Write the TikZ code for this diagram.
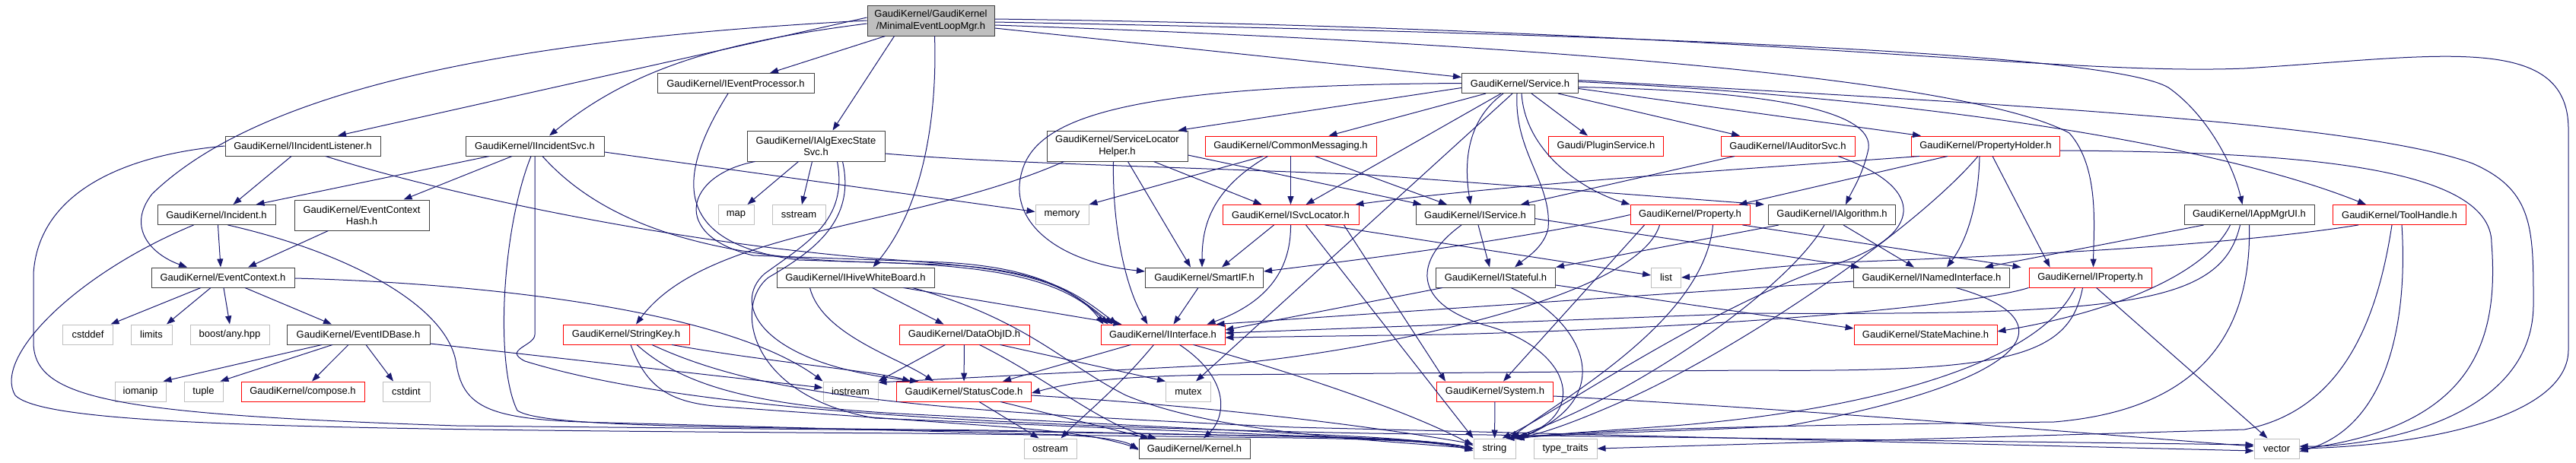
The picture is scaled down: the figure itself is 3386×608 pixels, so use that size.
\documentclass[tikz,border=0pt]{standalone}
\usepackage{fontspec}
\setmainfont{Liberation Sans}
\usetikzlibrary{arrows.meta}
\definecolor{edgeblue}{HTML}{191970}
\definecolor{boxgray}{HTML}{BFBFBF}
\begin{document}
\begin{tikzpicture}[x=1pt,y=-1pt,>={Triangle[length=11pt,width=8pt]},
    every node/.style={font=\fontsize{13}{15.3}\selectfont,inner sep=0pt,align=center,minimum height=26pt},
    hfile/.style={draw=black!75,line width=1pt},
    hred/.style={draw=red,line width=0.9pt},
    hsys/.style={draw=boxgray,line width=1pt},
    dep/.style={->,draw=edgeblue,line width=1pt}]
    \useasboundingbox (0,0) rectangle (3386,608);

    \node[hfile,fill=boxgray,minimum width=167pt,minimum height=40pt] (root) at (1223.5,27) {GaudiKernel/GaudiKernel\\/MinimalEventLoopMgr.h};
    \node[hfile,minimum width=206pt] (ievp) at (967,109.5) {GaudiKernel/IEventProcessor.h};
    \node[hfile,minimum width=153pt] (svc) at (1998,109.5) {GaudiKernel/Service.h};

    \node[hfile,minimum width=204pt] (iinl) at (398,192) {GaudiKernel/IIncidentListener.h};
    \node[hfile,minimum width=182pt] (iins) at (703,192) {GaudiKernel/IIncidentSvc.h};
    \node[hfile,minimum width=181pt,minimum height=40pt] (iaes) at (1072.5,192) {GaudiKernel/IAlgExecState\\Svc.h};
    \node[hfile,minimum width=185pt,minimum height=40pt] (slh) at (1468.5,192) {GaudiKernel/ServiceLocator\\Helper.h};
    \node[hred,minimum width=225pt] (cmsg) at (1696.5,192) {GaudiKernel/CommonMessaging.h};
    \node[hred,minimum width=151pt] (plug) at (2111,192) {Gaudi/PluginService.h};
    \node[hred,minimum width=176pt] (iaud) at (2350,192) {GaudiKernel/IAuditorSvc.h};
    \node[hred,minimum width=195pt] (ph) at (2610,192) {GaudiKernel/PropertyHolder.h};

    \node[hfile,minimum width=155pt] (inc) at (284.5,282.5) {GaudiKernel/Incident.h};
    \node[hfile,minimum width=177pt,minimum height=40pt] (ech) at (475.5,283) {GaudiKernel/EventContext\\Hash.h};
    \node[hsys,minimum width=47pt] (map) at (967.5,282.5) {map};
    \node[hsys,minimum width=70pt] (sstr) at (1050,282.5) {sstream};
    \node[hsys,minimum width=70pt] (mem) at (1396,282.5) {memory};
    \node[hred,minimum width=179pt] (isl) at (1696.5,282.5) {GaudiKernel/ISvcLocator.h};
    \node[hfile,minimum width=156pt] (isvc) at (1939,282.5) {GaudiKernel/IService.h};
    \node[hred,minimum width=157pt] (prop) at (2221.5,282.5) {GaudiKernel/Property.h};
    \node[hfile,minimum width=167pt] (ialg) at (2408,282.5) {GaudiKernel/IAlgorithm.h};
    \node[hfile,minimum width=171pt] (iapp) at (2956.5,282.5) {GaudiKernel/IAppMgrUI.h};
    \node[hred,minimum width=175pt] (tool) at (3154,282.5) {GaudiKernel/ToolHandle.h};

    \node[hfile,minimum width=188pt] (ectx) at (293,365) {GaudiKernel/EventContext.h};
    \node[hfile,minimum width=207pt] (ihwb) at (1124.5,365) {GaudiKernel/IHiveWhiteBoard.h};
    \node[hfile,minimum width=155pt] (smif) at (1583,365) {GaudiKernel/SmartIF.h};
    \node[hfile,minimum width=157pt] (istf) at (1966,365) {GaudiKernel/IStateful.h};
    \node[hsys,minimum width=39pt] (list) at (2190,365) {list};
    \node[hfile,minimum width=205pt] (inam) at (2539,365) {GaudiKernel/INamedInterface.h};
    \node[hred,minimum width=161pt] (iprp) at (2747.5,365) {GaudiKernel/IProperty.h};

    \node[hsys,minimum width=66pt] (cdef) at (115.5,440) {cstddef};
    \node[hsys,minimum width=54pt] (lim) at (199,440) {limits};
    \node[hsys,minimum width=104pt] (bany) at (302,440) {boost/any.hpp};
    \node[hfile,minimum width=188pt] (eidb) at (471,440) {GaudiKernel/EventIDBase.h};
    \node[hred,minimum width=166pt] (skey) at (823,440) {GaudiKernel/StringKey.h};
    \node[hred,minimum width=171pt] (doid) at (1267.5,440) {GaudiKernel/DataObjID.h};
    \node[hred,minimum width=163pt] (iint) at (1528.5,440) {GaudiKernel/IInterface.h};
    \node[hred,minimum width=188pt] (stm) at (2531,440) {GaudiKernel/StateMachine.h};

    \node[hsys,minimum width=67pt] (iom) at (184.5,515) {iomanip};
    \node[hsys,minimum width=51pt] (tup) at (267.5,515) {tuple};
    \node[hred,minimum width=162pt] (comp) at (398,515) {GaudiKernel/compose.h};
    \node[hsys,minimum width=62pt] (cint) at (534,515) {cstdint};
    \node[hsys,minimum width=72pt] (iost) at (1118,515) {iostream};
    \node[hred,minimum width=177pt] (stc) at (1267,515) {GaudiKernel/StatusCode.h};
    \node[hsys,minimum width=59pt] (mutx) at (1562,515) {mutex};
    \node[hred,minimum width=153pt] (sys) at (1965,515) {GaudiKernel/System.h};

    \node[hsys,minimum width=69pt] (ostr) at (1380.5,590) {ostream};
    \node[hfile,minimum width=146pt] (kern) at (1570,590) {GaudiKernel/Kernel.h};
    \node[hsys,minimum width=55pt] (str) at (1964.5,590) {string};
    \node[hsys,minimum width=83pt] (tytr) at (2057.5,590) {type\_traits};
    \node[hsys,minimum width=59pt] (vec) at (2992.5,590) {vector};

    \draw[dep] ([xshift=-60pt]root.south) -- ([xshift=45pt]ievp.north);
    \draw[dep] ([yshift=4pt]root.west) -- ([xshift=46pt]iinl.north);
    \draw[dep] ([yshift=-4pt]root.west) .. controls (950,55) and (830,90) .. ([xshift=19pt]iins.north);
    \draw[dep] ([xshift=-48pt]root.south) -- ([xshift=22pt]iaes.north);
    \draw[dep] (root.west) .. controls (700,50) and (350,110) .. (200,255) .. controls (165,300) and (200,335) .. ([xshift=-47pt]ectx.north);
    \draw[dep] ([xshift=5pt]root.south) .. controls (1232,150) and (1215,270) .. ([xshift=23pt]ihwb.north);
    \draw[dep] ([yshift=-10pt]root.east) -- ([yshift=8pt]svc.west);
    \draw[dep] ([yshift=-6pt]root.east) .. controls (2100,60) and (2600,110) .. (2720,175) .. controls (2760,220) and (2752,300) .. ([xshift=4pt]iprp.north);
    \draw[dep] ([yshift=-2pt]root.east) .. controls (2300,48) and (2780,75) .. (2850,115) .. controls (2900,150) and (2935,215) .. ([xshift=-9pt]iapp.north);
    \draw[dep] ([yshift=2pt]root.east) .. controls (2300,38) and (2700,100) .. (2950,90) .. controls (3200,75) and (3376,40) .. (3376,170) -- (3376,460) .. controls (3376,545) and (3200,585) .. (vec.east);

    \draw[dep] ([yshift=-6pt]svc.west) -- ([xshift=80pt]slh.north);
    \draw[dep] ([xshift=-45pt]svc.south) -- ([xshift=50pt]cmsg.north);
    \draw[dep] ([xshift=15pt]svc.south) -- ([xshift=-24pt]plug.north);
    \draw[dep] ([xshift=50pt]svc.south) -- ([xshift=-63pt]iaud.north);
    \draw[dep] ([yshift=-7pt]svc.east) -- ([xshift=-85pt]ph.north);
    \draw[dep] ([xshift=-25pt]svc.south) -- ([xshift=20pt]isl.north);
    \draw[dep] ([xshift=-22pt]svc.south) .. controls (1925,160) and (1925,220) .. ([xshift=-6pt]isvc.north);
    \draw[dep] ([xshift=2pt]svc.south) .. controls (2005,200) and (2080,250) .. (prop.north west);
    \draw[dep] (svc.west) .. controls (1500,112) and (1370,150) .. (1345,220) .. controls (1320,290) and (1390,345) .. ([yshift=8pt]smif.west);
    \draw[dep] ([xshift=-4pt]svc.south) .. controls (1990,200) and (2040,240) .. (2035,300) .. controls (2030,325) and (2005,340) .. ([xshift=25pt]istf.north);
    \draw[dep] ([yshift=-5pt]svc.east) .. controls (2350,120) and (2470,150) .. (2455,200) .. controls (2448,230) and (2435,250) .. ([xshift=18pt]ialg.north);
    \draw[dep] ([yshift=2pt]svc.east) .. controls (2500,128) and (2900,185) .. ([xshift=-44pt]tool.north);
    \draw[dep] ([yshift=4pt]svc.east) .. controls (2600,135) and (3100,160) .. (3250,215) .. controls (3330,250) and (3330,300) .. (3330,400) .. controls (3330,560) and (3100,588) .. ([yshift=3pt]vec.east);
    \draw[dep] ([xshift=-10pt]svc.south) -- ([xshift=10pt]mutx.north);

    \draw[dep] ([xshift=-70pt]slh.south) .. controls (1200,300) and (930,300) .. ([xshift=13pt]skey.north);
    \draw[dep] ([xshift=48pt]slh.south) -- ([xshift=-38pt]isl.north);
    \draw[dep] ([xshift=14pt]slh.south) -- ([xshift=-18pt]smif.north);
    \draw[dep] ([yshift=-12pt]slh.east) -- ([xshift=8pt]isvc.north west);
    \draw[dep] ([xshift=-5pt]slh.south) .. controls (1462,300) and (1480,380) .. ([xshift=-20pt]iint.north);

    \draw[dep] ([xshift=-36pt]cmsg.south) -- (mem.north east);
    \draw[dep] (cmsg) -- (isl);
    \draw[dep] ([xshift=32pt]cmsg.south) -- ([xshift=-37pt]isvc.north);
    \draw[dep] ([xshift=-30pt]cmsg.south) .. controls (1590,250) and (1580,300) .. ([xshift=-3pt]smif.north);

    \draw[dep] ([xshift=-70pt]iaud.south) -- ([xshift=60pt]isvc.north);
    \draw[dep] ([xshift=66pt]iaud.south) .. controls (2540,250) and (2520,310) .. (2420,345) .. controls (2250,400) and (2050,540) .. ([xshift=10pt]str.north);

    \draw[dep] ([xshift=9pt]ph.south) -- ([xshift=-53pt]iprp.north);
    \draw[dep] ([xshift=-50pt]ph.south) -- ([xshift=-15pt]prop.north east);
    \draw[dep] ([xshift=-8pt]ph.south) .. controls (2600,290) and (2575,330) .. ([xshift=20pt]inam.north);
    \draw[dep] ([xshift=-10pt]ph.south) .. controls (2520,300) and (2300,450) .. (2150,520) .. controls (2050,565) and (2010,575) .. ([xshift=15pt]str.north);
    \draw[dep] ([xshift=-87pt]ph.south) .. controls (2400,215) and (2000,240) .. ([xshift=-5pt]isl.north east);
    \draw[dep] ([yshift=-6pt]ph.east) .. controls (3000,200) and (3275,215) .. (3275,320) .. controls (3285,450) and (3250,560) .. ([yshift=-1pt]vec.east);

    \draw[dep] ([xshift=-10pt]prop.south east) -- ([xshift=-10pt]iprp.north west);
    \draw[dep] (prop.west) .. controls (2000,315) and (1800,340) .. ([yshift=8pt]smif.east);
    \draw[dep] ([xshift=30pt]prop.south) .. controls (2240,420) and (2060,520) .. ([xshift=20pt]str.north);
    \draw[dep] ([xshift=-60pt]prop.south) -- ([xshift=11pt]sys.north);
    \draw[dep] ([xshift=-40pt]prop.south) .. controls (2150,400) and (1750,470) .. (1600,480) -- ([yshift=12pt]iost.east);

    \draw[dep] ([xshift=-70pt]ialg.south) -- (istf.north east);
    \draw[dep] ([xshift=15pt]ialg.south) -- ([xshift=-23pt]inam.north);
    \draw[dep] ([xshift=-10pt]ialg.south) .. controls (2350,380) and (2150,520) .. ([xshift=22pt]str.north);

    \draw[dep] ([xshift=-60pt]iapp.south) -- ([xshift=70pt]inam.north);
    \draw[dep] ([xshift=-25pt]iapp.south) .. controls (2900,360) and (2780,410) .. ([yshift=4pt]stm.east);
    \draw[dep] ([xshift=-12pt]iapp.south) .. controls (2920,400) and (2800,415) .. (2300,412) -- ([yshift=2pt]iint.east);
    \draw[dep] (iapp.south) .. controls (2960,450) and (2880,540) .. (2700,555) .. controls (2300,560) and (2100,565) .. (str.north east);

    \draw[dep] ([xshift=-54pt]tool.south) .. controls (2950,320) and (2700,335) .. (2420,345) .. controls (2300,352) and (2250,362) .. (list.east);
    \draw[dep] ([xshift=-10pt]tool.south) .. controls (3125,420) and (3080,540) .. (2950,565) -- (tytr.east);
    \draw[dep] ([xshift=3pt]tool.south) .. controls (3165,420) and (3140,560) .. ([yshift=-4pt]vec.east);

    \draw[dep] ([xshift=8pt]iprp.south) -- ([xshift=-12pt]vec.north);
    \draw[dep] (iprp.south west) .. controls (2600,400) and (2300,430) .. (1900,440) -- ([yshift=-4pt]iint.east);
    \draw[dep] ([xshift=-10pt]iprp.south) .. controls (2720,470) and (2640,490) .. (2300,487) -- (1600,493) .. controls (1450,495) and (1400,505) .. ([yshift=-2pt]stc.east);
    \draw[dep] ([xshift=-20pt]iprp.south) .. controls (2680,480) and (2450,540) .. (2200,560) .. controls (2100,567) and (2030,572) .. ([xshift=-3pt]str.north east);

    \draw[dep] ([yshift=-5pt]inam.west) -- ([xshift=70pt]iint.north);
    \draw[dep] ([xshift=32pt]inam.south) .. controls (2720,420) and (2680,500) .. (2350,560) .. controls (2200,568) and (2060,570) .. (str.north east);

    \draw[dep] ([yshift=-10pt]istf.east) -- ([yshift=8pt]stm.west);
    \draw[dep] ([xshift=-70pt]istf.south) -- ([yshift=6pt]iint.east);
    \draw[dep] ([xshift=20pt]istf.south) .. controls (2080,420) and (2130,520) .. ([xshift=5pt]str.north east);

    \draw[dep] ([xshift=4pt]isvc.south) -- ([xshift=-8pt]istf.north);
    \draw[dep] ([yshift=-5pt]isvc.east) -- ([xshift=8pt]inam.north west);
    \draw[dep] ([xshift=-18pt]isvc.south) .. controls (1860,340) and (1850,400) .. (1960,430) .. controls (2060,460) and (2090,540) .. ([xshift=2pt]str.north east);

    \draw[dep] ([xshift=-22pt]isl.south) -- ([xshift=23pt]smif.north);
    \draw[dep] (isl.south) .. controls (1697,360) and (1660,400) .. ([xshift=58pt]iint.north);
    \draw[dep] ([xshift=45pt]isl.south) -- ([yshift=3pt]list.west);
    \draw[dep] ([xshift=20pt]isl.south) -- (str.north west);
    \draw[dep] ([xshift=70pt]isl.south) -- ([xshift=-65pt]sys.north);

    \draw[dep] ([xshift=-8pt]smif.south) -- ([xshift=14pt]iint.north);

    \draw[dep] ([xshift=-42pt]iint.south) -- ([xshift=51pt]stc.north);
    \draw[dep] ([xshift=-12pt]iint.south) .. controls (1470,510) and (1420,550) .. ([xshift=14pt]ostr.north);
    \draw[dep] ([xshift=22pt]iint.south) .. controls (1620,500) and (1610,550) .. ([xshift=12pt]kern.north);
    \draw[dep] ([xshift=40pt]iint.south) .. controls (1700,490) and (1850,540) .. ([yshift=4pt]str.west);

    \draw[dep] ([xshift=20pt]stc.south) -- ([xshift=-15pt]ostr.north);
    \draw[dep] ([xshift=48pt]stc.south) -- ([xshift=-60pt]kern.north);
    \draw[dep] ([yshift=-5pt]stc.east) .. controls (1600,535) and (1800,560) .. ([yshift=6pt]str.west);

    \draw[dep] (sys) -- (str);
    \draw[dep] ([yshift=-6pt]sys.east) .. controls (2400,540) and (2800,575) .. ([yshift=3pt]vec.west);

    \draw[dep] ([xshift=-25pt]doid.south) -- (iost.north east);
    \draw[dep] (doid) -- (stc);
    \draw[dep] ([xshift=47pt]doid.south) -- (mutx.north west);
    \draw[dep] ([xshift=20pt]doid.south) .. controls (1380,500) and (1450,560) .. ([xshift=-50pt]kern.north);

    \draw[dep] ([xshift=60pt]skey.south) .. controls (1000,475) and (1150,488) .. ([xshift=-70pt]stc.north);
    \draw[dep] ([xshift=6pt]skey.south) .. controls (850,510) and (880,530) .. (950,535) -- (1300,560) .. controls (1400,567) and (1450,575) .. (kern.west);
    \draw[dep] ([xshift=14pt]skey.south) .. controls (900,510) and (1000,535) .. (1200,545) -- (1800,575) .. controls (1880,580) and (1910,585) .. (str.west);
    \draw[dep] ([xshift=34pt]skey.south) .. controls (1000,520) and (1200,540) .. (1700,562) -- ([yshift=-3pt]vec.west);

    \draw[dep] ([xshift=22pt]ihwb.south) -- ([xshift=-27pt]doid.north);
    \draw[dep] ([xshift=63pt]ihwb.south) -- ([xshift=-54pt]iint.north);
    \draw[dep] ([xshift=-60pt]ihwb.south) .. controls (1080,440) and (1180,470) .. ([xshift=-40pt]stc.north);
    \draw[dep] ([xshift=75pt]ihwb.south) .. controls (1350,420) and (1400,480) .. (1480,520) .. controls (1600,570) and (1800,578) .. (str.west);

    \draw[dep] ([xshift=-23pt]iaes.south) -- ([xshift=15pt]map.north);
    \draw[dep] ([xshift=-5pt]iaes.south) -- ([xshift=4pt]sstr.north);
    \draw[dep] ([yshift=-10pt]iaes.east) .. controls (1300,214) and (1500,218) .. (1800,230) -- ([xshift=-5pt]ialg.north west);
    \draw[dep] ([xshift=-80pt]iaes.south) .. controls (900,230) and (880,310) .. (990,336) -- (1240,345) .. controls (1370,352) and (1410,385) .. ([xshift=-66pt]iint.north);
    \draw[dep] ([xshift=28pt]iaes.south) .. controls (1115,290) and (1060,320) .. (1005,360) .. controls (960,400) and (1000,480) .. ([xshift=-60pt]stc.north);
    \draw[dep] ([xshift=35pt]iaes.south) .. controls (1125,290) and (1070,330) .. (1010,365) .. controls (965,400) and (980,520) .. (1150,550) -- (1700,573) .. controls (1850,577) and (1900,582) .. (str.west);

    \draw[dep] ([xshift=-10pt]ievp.south) .. controls (890,230) and (880,320) .. (1050,342) -- (1240,348) .. controls (1380,355) and (1420,390) .. ([xshift=-60pt]iint.north);

    \draw[dep] ([xshift=-60pt]iins.south) -- ([xshift=52pt]inc.north);
    \draw[dep] ([xshift=-30pt]iins.south) -- ([xshift=55pt]ech.north);
    \draw[dep] ([yshift=-8pt]iins.east) -- ([yshift=4pt]mem.west);
    \draw[dep] ([xshift=10pt]iins.south) .. controls (780,280) and (900,340) .. (1150,345) .. controls (1320,350) and (1400,370) .. ([xshift=-72pt]iint.north);
    \draw[dep] ([xshift=-5pt]iins.south) .. controls (660,300) and (650,480) .. (680,540) .. controls (710,560) and (900,562) .. (1300,566) -- (1700,574) .. controls (1850,578) and (1900,583) .. (str.west);
    \draw[dep] (iins.south) -- (703,440) .. controls (703,455) and (660,460) .. (690,475) .. controls (900,540) and (1300,560) .. (1800,570) -- ([yshift=5pt]vec.west);

    \draw[dep] ([xshift=-15pt]iinl.south) -- ([xshift=22pt]inc.north);
    \draw[dep] ([xshift=30pt]iinl.south) .. controls (600,260) and (900,320) .. (1150,340) .. controls (1300,350) and (1400,360) .. ([xshift=-78pt]iint.north);
    \draw[dep] (iinl.west) .. controls (150,205) and (50,260) .. (44,360) -- (44,450) .. controls (44,525) and (150,545) .. (600,560) -- (1300,567) -- (1700,574) .. controls (1850,577) and (1900,582) .. (str.west);

    \draw[dep] ([xshift=2pt]inc.south) -- ([xshift=-3pt]ectx.north);
    \draw[dep] ([xshift=-30pt]inc.south) .. controls (100,360) and (-10,470) .. (20,520) .. controls (60,560) and (400,565) .. (1200,570) -- (1700,576) .. controls (1850,578) and (1900,583) .. ([yshift=-3pt]str.west);
    \draw[dep] ([xshift=15pt]inc.south) .. controls (450,330) and (590,400) .. (600,480) .. controls (610,540) and (650,553) .. (800,556) -- (1400,572) .. controls (1450,575) and (1480,580) .. ([yshift=-2pt]kern.west);

    \draw[dep] ([xshift=-44pt]ech.south) -- ([xshift=33pt]ectx.north);

    \draw[dep] ([xshift=-29pt]ectx.south) -- ([xshift=30pt]cdef.north);
    \draw[dep] ([xshift=-16pt]ectx.south) -- ([xshift=20pt]lim.north);
    \draw[dep] ([xshift=1pt]ectx.south) -- (bany.north);
    \draw[dep] ([xshift=29pt]ectx.south) -- ([xshift=-35pt]eidb.north);
    \draw[dep] ([yshift=-1pt]ectx.east) .. controls (620,372) and (950,405) .. (iost.north west);

    \draw[dep] ([xshift=-48pt]eidb.south) -- ([xshift=30pt]iom.north);
    \draw[dep] ([xshift=-34pt]eidb.south) -- ([xshift=22pt]tup.north);
    \draw[dep] ([xshift=-13pt]eidb.south) -- ([xshift=12pt]comp.north);
    \draw[dep] ([xshift=10pt]eidb.south) -- ([xshift=-17pt]cint.north);
    \draw[dep] ([yshift=-12pt]eidb.east) -- ([yshift=5pt]iost.west);
\end{tikzpicture}
\end{document}
